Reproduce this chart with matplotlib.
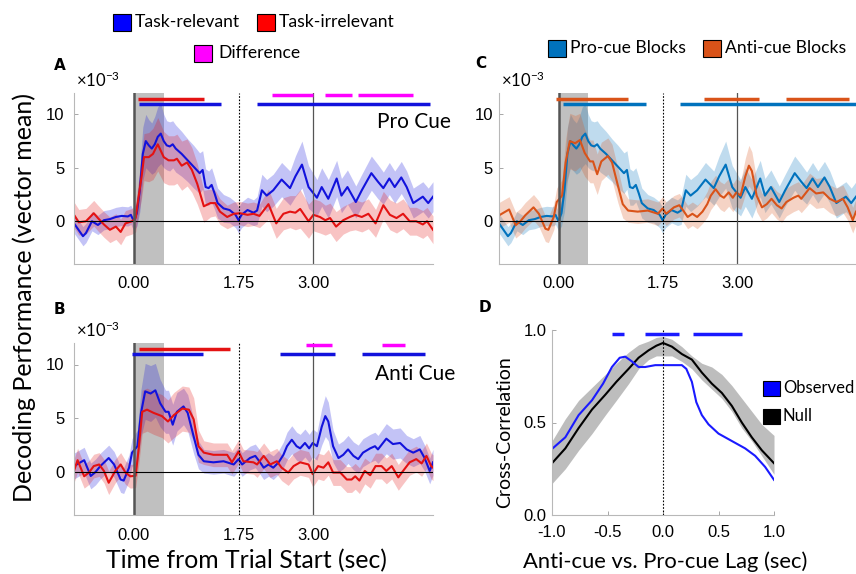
import numpy as np
import matplotlib
matplotlib.use('Agg')
import matplotlib.pyplot as plt
from matplotlib.patches import Rectangle

plt.rcParams['font.family'] = ['Lato', 'DejaVu Sans']
plt.rcParams['mathtext.fontset'] = 'custom'
plt.rcParams['mathtext.rm'] = 'Liberation Sans'

W, H = 856, 574
TICK_FONT = 'Liberation Sans'

# ---- panel A / C : pro cue, task-relevant (also pro-cue blocks in C)
t_a_rel = [-1.0, -0.9, -0.85, -0.8, -0.7, -0.6, -0.5, -0.4, -0.3, -0.2,
           -0.1, -0.05, 0.0, 0.05, 0.1, 0.15, 0.2, 0.25, 0.3, 0.35,
           0.4, 0.45, 0.5, 0.55, 0.6, 0.65, 0.7, 0.8, 0.9, 1.0,
           1.1, 1.15, 1.2, 1.25, 1.3, 1.35, 1.4, 1.5, 1.6, 1.7,
           1.75, 1.8, 1.9, 2.0, 2.06, 2.14, 2.22, 2.33, 2.47, 2.61,
           2.7, 2.81, 2.92, 3.06, 3.14, 3.25, 3.39, 3.47, 3.57, 3.71,
           3.81, 3.97, 4.08, 4.17, 4.27, 4.36, 4.47, 4.56, 4.67, 4.83,
           4.92, 5.0]
v_a_rel = [-0.2, -1.0, -1.4, -1.1, 0.0, -0.35, 0.1, 0.2, 0.4, 0.5,
           0.45, 0.6, 0.0, 0.75, 2.9, 6.3, 7.5, 7.1, 6.8, 7.2,
           7.9, 8.2, 7.5, 7.1, 7.0, 7.2, 6.8, 6.3, 5.7, 5.1,
           4.5, 4.8, 3.2, 3.1, 3.4, 2.6, 1.7, 1.2, 1.05, 0.6,
           0.1, 0.6, 1.05, 0.8, 1.0, 2.9, 2.4, 2.9, 3.9, 3.1,
           4.2, 5.3, 3.2, 2.2, 3.2, 2.1, 4.0, 2.4, 3.2, 1.8,
           2.9, 4.5, 3.7, 3.1, 4.0, 3.2, 4.1, 3.2, 1.7, 2.3,
           1.7, 2.3]
s_a_rel = [0.9, 0.9, 0.9, 0.9, 0.9, 0.9, 0.9, 0.9, 0.9, 0.9,
           0.9, 0.9, 0.9, 1.2, 2.0, 2.5, 2.5, 2.4, 2.4, 2.6,
           2.8, 2.8, 2.5, 2.3, 2.3, 2.2, 2.2, 2.1, 2.0, 2.0,
           1.9, 1.8, 1.7, 1.6, 1.6, 1.5, 1.4, 1.3, 1.2, 1.2,
           1.2, 1.2, 1.2, 1.2, 1.3, 1.5, 1.5, 1.5, 1.6, 1.6,
           1.9, 2.2, 2.0, 1.7, 1.8, 1.8, 1.7, 1.6, 1.6, 1.5,
           1.5, 1.6, 1.6, 1.5, 1.5, 1.5, 1.5, 1.5, 1.4, 1.4,
           1.4, 1.4]

# ---- panel A : pro cue, task-irrelevant
t_a_irr = [-1.0, -0.92, -0.8, -0.67, -0.6, -0.5, -0.4, -0.3, -0.22, -0.14,
           -0.03, 0.03, 0.08, 0.13, 0.17, 0.25, 0.32, 0.4, 0.5, 0.58,
           0.67, 0.72, 0.8, 0.89, 0.97, 1.06, 1.17, 1.28, 1.36, 1.44,
           1.56, 1.67, 1.78, 1.9, 2.0, 2.1, 2.25, 2.38, 2.5, 2.61,
           2.7, 2.78, 2.92, 3.0, 3.11, 3.2, 3.28, 3.38, 3.5, 3.61,
           3.7, 3.81, 3.92, 4.04, 4.17, 4.28, 4.39, 4.5, 4.61, 4.72,
           4.83, 4.9, 5.0]
v_a_irr = [0.6, -0.1, 0.0, 0.75, 0.3, -0.3, -0.8, -0.5, -1.0, -0.2,
           0.0, 0.3, 2.3, 4.2, 6.0, 6.0, 6.3, 7.2, 6.0, 5.7,
           5.7, 5.85, 5.2, 5.5, 4.8, 3.5, 1.4, 1.7, 1.7, 0.9,
           0.4, 0.7, 0.75, 0.6, 0.7, 0.5, 1.6, -0.2, 0.7, 0.9,
           0.8, 1.15, 0.0, 0.6, 0.4, 0.1, 0.3, -0.5, 0.1, 0.4,
           0.6, 0.4, 0.7, -0.2, 1.5, 0.6, 0.3, 0.7, 0.0, 0.0,
           -0.3, 0.0, -0.8]
s_a_irr = [1.2, 1.2, 1.2, 1.2, 1.2, 1.2, 1.2, 1.2, 1.2, 1.2,
           1.2, 1.3, 1.6, 2.0, 2.2, 2.3, 2.4, 2.5, 2.4, 2.3,
           2.3, 2.3, 2.3, 2.2, 2.1, 1.9, 1.5, 1.3, 1.2, 1.2,
           1.1, 1.1, 1.1, 1.1, 1.1, 1.1, 1.4, 1.4, 1.5, 1.5,
           1.6, 1.8, 1.6, 1.5, 1.5, 1.4, 1.4, 1.4, 1.3, 1.3,
           1.4, 1.4, 1.4, 1.3, 1.3, 1.4, 1.4, 1.4, 1.3, 1.3,
           1.3, 1.3, 1.3]

# ---- panel B / C : anti cue, task-relevant (also anti-cue blocks in C)
t_b_rel = [-1.0, -0.83, -0.72, -0.64, -0.56, -0.42, -0.33, -0.22, -0.17, -0.08,
           -0.03, 0.06, 0.12, 0.19, 0.28, 0.36, 0.44, 0.53, 0.58, 0.65,
           0.72, 0.83, 0.9, 1.0, 1.08, 1.17, 1.33, 1.5, 1.67, 1.75,
           1.81, 1.94, 2.03, 2.11, 2.17, 2.25, 2.33, 2.42, 2.5, 2.56,
           2.64, 2.72, 2.78, 2.86, 2.93, 2.99, 3.06, 3.14, 3.2, 3.25,
           3.33, 3.42, 3.5, 3.58, 3.67, 3.75, 3.83, 3.95, 4.03, 4.08,
           4.22, 4.33, 4.45, 4.56, 4.67, 4.78, 4.86, 4.945, 5.0]
v_b_rel = [0.55, 1.1, -0.37, 0.0, 0.55, 1.3, 0.7, -0.7, -0.8, 0.4,
           1.8, 2.4, 5.5, 7.5, 7.3, 7.6, 6.4, 5.6, 5.6, 4.4,
           5.6, 6.1, 5.5, 3.3, 1.6, 1.0, 0.9, 1.0, 0.7, 1.2,
           0.7, 1.3, 1.5, 0.9, 0.4, 0.7, 0.4, 0.9, 1.6, 2.4,
           3.0, 2.4, 2.2, 2.7, 2.2, 2.7, 2.4, 4.2, 5.2, 4.7,
           2.4, 1.3, 1.6, 2.1, 1.5, 1.2, 1.8, 2.2, 2.4, 2.1,
           3.1, 2.6, 2.7, 2.1, 1.8, 2.1, 1.3, 0.1, 0.9]
s_b_rel = [1.2, 1.2, 1.2, 1.2, 1.2, 1.2, 1.2, 1.2, 1.2, 1.2,
           1.3, 1.5, 2.2, 2.6, 2.6, 2.5, 2.2, 2.0, 2.0, 1.9,
           1.8, 1.7, 1.7, 1.6, 1.3, 1.1, 1.1, 1.1, 1.1, 1.1,
           1.1, 1.1, 1.1, 1.1, 1.1, 1.1, 1.1, 1.1, 1.2, 1.3,
           1.3, 1.3, 1.3, 1.3, 1.3, 1.3, 1.3, 1.7, 1.9, 1.8,
           1.5, 1.3, 1.3, 1.3, 1.3, 1.3, 1.3, 1.3, 1.3, 1.3,
           1.4, 1.4, 1.4, 1.3, 1.3, 1.3, 1.2, 1.2, 1.2]

# ---- panel B : anti cue, task-irrelevant
t_b_irr = [-1.0, -0.94, -0.83, -0.75, -0.67, -0.58, -0.5, -0.42, -0.31, -0.22,
           -0.14, -0.06, 0.03, 0.08, 0.14, 0.22, 0.33, 0.47, 0.57, 0.67,
           0.81, 0.92, 1.0, 1.08, 1.17, 1.33, 1.56, 1.64, 1.75, 1.83,
           2.0, 2.06, 2.17, 2.28, 2.39, 2.47, 2.58, 2.67, 2.78, 2.92,
           2.99, 3.08, 3.17, 3.25, 3.33, 3.45, 3.56, 3.64, 3.7, 3.77,
           3.86, 3.95, 4.04, 4.14, 4.22, 4.31, 4.42, 4.5, 4.61, 4.72,
           4.81, 4.89, 4.97, 5.0]
v_b_irr = [0.1, 1.1, -0.4, -0.05, 0.55, 0.7, 0.1, -1.0, 0.1, 0.7,
           -0.05, -0.4, -0.35, 2.1, 5.6, 5.8, 5.5, 5.2, 4.7, 5.3,
           5.9, 5.8, 4.9, 2.4, 1.8, 1.6, 1.6, 0.9, 1.9, 1.0,
           0.9, 0.7, 1.5, 0.7, 1.0, 0.4, -0.05, 0.55, 0.9, 0.7,
           -0.2, 0.55, 0.4, 0.9, -0.05, -0.05, -0.7, -0.7, -0.4, -0.8,
           0.1, -0.3, 0.55, 0.55, 0.1, 0.55, -0.5, 0.1, 0.9, 1.2,
           0.8, 1.5, 0.55, 0.4]
s_b_irr = [1.1, 1.1, 1.1, 1.1, 1.1, 1.1, 1.1, 1.1, 1.1, 1.1,
           1.1, 1.1, 1.1, 1.5, 2.0, 2.0, 2.0, 2.0, 2.0, 2.1,
           2.1, 2.1, 2.0, 1.5, 1.1, 1.1, 1.1, 1.1, 1.1, 1.1,
           1.1, 1.2, 1.2, 1.2, 1.2, 1.2, 1.2, 1.2, 1.2, 1.2,
           1.2, 1.2, 1.2, 1.2, 1.2, 1.2, 1.2, 1.2, 1.2, 1.2,
           1.2, 1.2, 1.2, 1.2, 1.2, 1.2, 1.2, 1.2, 1.2, 1.2,
           1.2, 1.2, 1.2, 1.2]

# significance bars (start, end) in seconds
bars_a_irr = [(0.07, 1.17)]
bars_a_rel = [(0.08, 1.46), (2.06, 4.95)]
bars_a_diff = [(2.31, 3.0), (3.19, 3.65), (3.75, 4.66)]
bars_b_irr = [(0.08, 1.6)]
bars_b_rel = [(-0.03, 1.15), (2.44, 3.36), (3.82, 4.87)]
bars_b_diff = [(2.88, 3.32), (4.14, 4.54)]
bars_c_anti = [(-0.05, 1.16), (2.44, 3.37), (3.82, 4.88)]
bars_c_pro = [(0.07, 1.47), (2.05, 5.0)]

time_ticks = [0.0, 1.75, 3.0]
time_ticklabels = ['0.00', '1.75', '3.00']

# ---- panel D : cross-correlation
lag_null = [-1.0, -0.88, -0.76, -0.64, -0.52, -0.42, -0.31, -0.22, -0.13, -0.06, 0.0,
            0.08, 0.17, 0.26, 0.35, 0.44, 0.53, 0.62, 0.71, 0.80, 0.89, 1.0]
null_mean = [0.28, 0.36, 0.47, 0.57, 0.65, 0.72, 0.79, 0.85, 0.89, 0.915, 0.93,
             0.91, 0.87, 0.84, 0.77, 0.71, 0.66, 0.59, 0.50, 0.42, 0.35, 0.28]
null_low = [0.17, 0.25, 0.35, 0.44, 0.54, 0.62, 0.71, 0.79, 0.84, 0.86, 0.86,
            0.86, 0.83, 0.79, 0.73, 0.68, 0.63, 0.56, 0.47, 0.40, 0.32, 0.22]
null_high = [0.40, 0.52, 0.62, 0.69, 0.76, 0.82, 0.88, 0.92, 0.94, 0.96, 0.965,
             0.95, 0.91, 0.86, 0.82, 0.80, 0.76, 0.70, 0.63, 0.56, 0.49, 0.43]
lag_obs = [-1.0, -0.88, -0.76, -0.64, -0.54, -0.46, -0.39, -0.34, -0.28, -0.22, -0.16,
           -0.07, 0.05, 0.17, 0.21, 0.26, 0.30, 0.35, 0.41, 0.50, 0.62, 0.74, 0.83, 0.92, 1.0]
obs = [0.357, 0.42, 0.54, 0.62, 0.71, 0.80, 0.85, 0.856, 0.83, 0.80, 0.80,
       0.81, 0.81, 0.81, 0.79, 0.72, 0.61, 0.54, 0.49, 0.44, 0.40, 0.36, 0.32, 0.26, 0.19]
bars_d = [(-0.455, -0.35), (-0.16, 0.148), (0.27, 0.715)]

BLUE, RED, MAG = '#1212dc', '#e41212', '#ff00ff'
PRO, ANTI = '#0072bd', '#d95319'

fig = plt.figure(figsize=(8.56, 5.74), dpi=100)


def px_axes(left, top, right, bottom):
    return fig.add_axes([left / W, 1 - bottom / H, (right - left) / W, (bottom - top) / H])


def style(ax, xpad, ypad):
    for side in ['top', 'right']:
        ax.spines[side].set_visible(False)
    for side in ['left', 'bottom']:
        ax.spines[side].set_color('#b8b8b8')
        ax.spines[side].set_linewidth(0.8)
    ax.tick_params(direction='in', length=3, width=0.6, color='#999999', labelsize=12)
    ax.tick_params(axis='x', pad=xpad)
    ax.tick_params(axis='y', pad=ypad)
    for lab in ax.get_xticklabels() + ax.get_yticklabels():
        lab.set_fontfamily(TICK_FONT)


def time_panel(ax, series, bars, ypad):
    ax.axvspan(0, 0.5, color='#c0c0c0', lw=0, zorder=0)
    for t, v, s, color in series:
        t, v, s = np.asarray(t), np.asarray(v), np.asarray(s)
        ax.fill_between(t, v - s, v + s, color=color, alpha=0.25, lw=0)
        ax.plot(t, v, color=color, lw=1.5, solid_joinstyle='round')
    ax.axhline(0, color='black', lw=0.8)
    ax.axvline(0, color='#555555', lw=1.8)
    ax.axvline(3.0, color='#555555', lw=0.9)
    ax.axvline(1.75, color='black', lw=0.8, ls=(0, (1.5, 1.5)))
    for segs, y, color in bars:
        for a, b in segs:
            ax.plot([a, b], [y, y], color=color, lw=2.5, solid_capstyle='butt')
    ax.set_xlim(-1, 5)
    ax.set_ylim(-4, 12)
    ax.set_xticks(time_ticks, time_ticklabels)
    ax.set_yticks([0, 5, 10], ['0', '5', '10'])
    style(ax, 9, ypad)
    ax.annotate(r'$\mathregular{\times10^{-3}}$', xy=(0, 1), xycoords='axes fraction',
                xytext=(1.5, 4.5), textcoords='offset points', fontsize=12,
                va='baseline', ha='left')


ax_a = px_axes(74, 93, 433, 264)
time_panel(ax_a, [(t_a_rel, v_a_rel, s_a_rel, BLUE), (t_a_irr, v_a_irr, s_a_irr, RED)],
           [(bars_a_irr, 11.43, RED), (bars_a_rel, 11.0, BLUE), (bars_a_diff, 11.83, MAG)], 7)
ax_a.text(4.06, 9.26, 'Pro Cue', fontsize=15, va='center', ha='left', clip_on=False)

ax_b = px_axes(74, 343, 433, 515)
time_panel(ax_b, [(t_b_rel, v_b_rel, s_b_rel, BLUE), (t_b_irr, v_b_irr, s_b_irr, RED)],
           [(bars_b_irr, 11.41, RED), (bars_b_rel, 11.0, BLUE), (bars_b_diff, 11.78, MAG)], 7)
ax_b.text(4.03, 9.08, 'Anti Cue', fontsize=15, va='center', ha='left', clip_on=False)

ax_c = px_axes(499, 93, 856, 264)
time_panel(ax_c, [(t_a_rel, v_a_rel, s_a_rel, PRO), (t_b_rel, v_b_rel, s_b_rel, ANTI)],
           [(bars_c_anti, 11.43, ANTI), (bars_c_pro, 11.0, PRO)], 4.5)

ax_d = px_axes(552, 330, 774, 515)
ax_d.fill_between(lag_null, null_low, null_high, color='#bdbdbd', lw=0)
ax_d.plot(lag_null, null_mean, color='black', lw=1.5, solid_joinstyle='round')
ax_d.plot(lag_obs, obs, color='#1a1aff', lw=1.5, solid_joinstyle='round')
ax_d.axvline(0, color='black', lw=0.8, ls=(0, (1.5, 1.5)))
for a, b in bars_d:
    ax_d.plot([a, b], [0.98, 0.98], color='#1a1aff', lw=2.5, solid_capstyle='butt')
ax_d.set_xlim(-1, 1)
ax_d.set_ylim(0, 1)
ax_d.set_xticks([-1, -0.5, 0, 0.5, 1], ['-1.0', '-0.5', '0.0', '0.5', '1.0'])
ax_d.set_yticks([0, 0.5, 1.0], ['0.0', '0.5', '1.0'])
style(ax_d, 7, 4)


def legend_item(x, y, color, label, w=18, h=17, size=12.6, gap=4):
    fig.add_artist(Rectangle((x / W, 1 - (y + h / 2) / H), w / W, h / H,
                             transform=fig.transFigure, facecolor=color,
                             edgecolor='black', lw=0.8))
    fig.text((x + w + gap) / W, 1 - y / H, label, fontsize=size, va='center', ha='left')


legend_item(113, 22, '#0000ff', 'Task-relevant')
legend_item(257, 22, '#ff0000', 'Task-irrelevant')
legend_item(194, 53, MAG, 'Difference', gap=6)
legend_item(548, 48, PRO, 'Pro-cue Blocks')
legend_item(703, 48, ANTI, 'Anti-cue Blocks')
legend_item(763, 388, '#0000ff', 'Observed', w=17, h=15, size=12, gap=3)
legend_item(763, 416, 'black', 'Null', w=17, h=15, size=12, gap=3)

for x, y, letter in [(59.5, 66, 'A'), (59, 310, 'B'), (481, 63, 'C'), (484.5, 308, 'D')]:
    fig.text(x / W, 1 - y / H, letter, fontsize=11, fontweight='bold',
             family='DejaVu Sans', ha='center', va='center')

fig.text(24 / W, 1 - 297 / H, 'Decoding Performance (vector mean)', rotation=90,
         fontsize=18, ha='center', va='center')
fig.text(246 / W, 1 - 561 / H, 'Time from Trial Start (sec)', fontsize=17.8,
         ha='center', va='center')
fig.text(505 / W, 1 - 432 / H, 'Cross-Correlation', rotation=90, fontsize=14,
         ha='center', va='center')
fig.text(665 / W, 1 - 562 / H, 'Anti-cue vs. Pro-cue Lag (sec)', fontsize=15.8,
         ha='center', va='center')

fig.savefig('out.png', dpi=100)
